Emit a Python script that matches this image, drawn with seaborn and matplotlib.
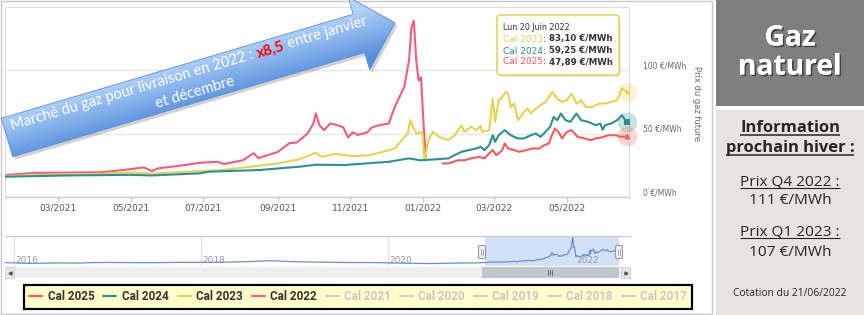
import numpy as np
import pandas as pd
import matplotlib
matplotlib.use("Agg")
import matplotlib.pyplot as plt
import seaborn as sns
import matplotlib.dates as mdates
import matplotlib.patheffects as pe
from matplotlib.patches import Rectangle, Polygon, FancyBboxPatch
from matplotlib.lines import Line2D
from matplotlib import font_manager

# ---------------------------------------------------------------- data
cal2022_dates = ["2021-01-16", "2021-02-09", "2021-03-09", "2021-04-06", "2021-04-17", "2021-05-01",
                 "2021-05-12", "2021-05-19", "2021-05-24", "2021-06-09", "2021-06-28", "2021-07-13",
                 "2021-07-18", "2021-08-03", "2021-08-12", "2021-08-16", "2021-09-01", "2021-09-11",
                 "2021-09-17", "2021-09-26", "2021-10-01", "2021-10-03", "2021-10-06", "2021-10-10",
                 "2021-10-15", "2021-10-21", "2021-10-26", "2021-10-30", "2021-11-03", "2021-11-07",
                 "2021-11-15", "2021-11-19", "2021-11-25", "2021-12-03", "2021-12-08", "2021-12-12",
                 "2021-12-16", "2021-12-20", "2021-12-22", "2021-12-24", "2021-12-26", "2021-12-28",
                 "2021-12-30", "2022-01-01", "2022-01-03"]
cal2022_values = [17.3, 19.0, 19.3, 19.5, 20.5, 22.0,
                  23.4, 20.5, 22.6, 24.4, 27.0, 27.8,
                  26.0, 29.0, 34.6, 30.7, 35.5, 42.5,
                  43.0, 50.0, 58.0, 66.0, 56.7, 52.8,
                  58.0, 56.7, 55.0, 47.0, 51.0, 49.0,
                  51.0, 55.0, 56.7, 58.0, 71.0, 79.0,
                  87.0, 108.0, 134.0, 139.0, 108.0, 92.0,
                  94.5, 60.0, 31.5]

cal2023_dates = ["2021-01-16", "2021-02-20", "2021-04-01", "2021-05-01", "2021-05-19", "2021-06-09",
                 "2021-06-28", "2021-07-13", "2021-08-10", "2021-09-01", "2021-09-19", "2021-10-03",
                 "2021-10-08", "2021-10-19", "2021-11-03", "2021-11-17", "2021-11-28", "2021-12-08",
                 "2021-12-14", "2021-12-19", "2021-12-21", "2021-12-26", "2021-12-31", "2022-01-02",
                 "2022-01-05", "2022-01-09", "2022-01-14", "2022-01-22", "2022-01-27", "2022-02-02",
                 "2022-02-04", "2022-02-10", "2022-02-14", "2022-02-18", "2022-02-19", "2022-02-25",
                 "2022-02-28", "2022-03-02", "2022-03-05", "2022-03-08", "2022-03-11", "2022-03-13",
                 "2022-03-15", "2022-03-18", "2022-03-21", "2022-03-25", "2022-03-29", "2022-04-01",
                 "2022-04-05", "2022-04-09", "2022-04-13", "2022-04-19", "2022-04-23", "2022-04-27",
                 "2022-05-01", "2022-05-05", "2022-05-09", "2022-05-13", "2022-05-17", "2022-05-22",
                 "2022-05-28", "2022-06-02", "2022-06-07", "2022-06-12", "2022-06-16", "2022-06-20"]
cal2023_values = [16.5, 17.5, 18.0, 19.4, 18.5, 19.5,
                  20.5, 21.0, 24.0, 26.5, 29.7, 35.0,
                  31.7, 34.0, 32.3, 33.0, 35.7, 38.3,
                  44.9, 50.0, 60.6, 50.0, 51.4, 28.5,
                  44.9, 51.4, 47.5, 44.9, 48.8, 56.7,
                  51.4, 55.4, 52.8, 56.2, 51.4, 52.8,
                  77.7, 59.3, 76.4, 79.0, 82.9, 81.6,
                  71.0, 73.7, 60.6, 65.9, 69.8, 65.9,
                  69.8, 72.4, 75.0, 82.9, 77.7, 75.0,
                  76.4, 81.6, 73.7, 76.4, 71.0, 71.0,
                  73.7, 73.7, 75.0, 76.4, 85.6, 83.10]

cal2024_dates = ["2021-01-16", "2021-03-09", "2021-05-01", "2021-05-19", "2021-06-28", "2021-07-06",
                 "2021-08-17", "2021-09-19", "2021-10-03", "2021-10-26", "2021-12-03", "2021-12-20",
                 "2021-12-29", "2022-01-14", "2022-01-22", "2022-01-27", "2022-02-02", "2022-02-08",
                 "2022-02-14", "2022-02-18", "2022-02-21", "2022-02-25", "2022-02-28", "2022-03-02",
                 "2022-03-05", "2022-03-10", "2022-03-15", "2022-03-21", "2022-03-26", "2022-04-01",
                 "2022-04-05", "2022-04-09", "2022-04-13", "2022-04-17", "2022-04-20", "2022-04-23",
                 "2022-04-26", "2022-04-30", "2022-05-04", "2022-05-09", "2022-05-13", "2022-05-19",
                 "2022-05-25", "2022-05-29", "2022-05-31", "2022-06-02", "2022-06-07", "2022-06-12",
                 "2022-06-16", "2022-06-20"]
cal2024_values = [16.0, 17.0, 17.5, 17.0, 18.7, 20.0,
                  21.3, 23.9, 25.5, 25.2, 27.8, 30.5,
                  29.0, 29.9, 30.5, 33.0, 35.7, 37.0,
                  38.3, 39.6, 37.0, 40.9, 48.8, 43.5,
                  48.8, 52.8, 48.8, 46.2, 46.2, 48.8,
                  50.1, 47.5, 51.4, 55.4, 63.2, 60.6,
                  65.9, 60.6, 59.3, 65.9, 60.6, 59.3,
                  56.7, 58.0, 53.0, 56.7, 58.0, 60.6,
                  64.6, 59.25]

cal2025_dates = ["2022-01-17", "2022-01-22", "2022-01-30", "2022-02-04", "2022-02-10", "2022-02-17",
                 "2022-02-21", "2022-02-25", "2022-02-28", "2022-03-03", "2022-03-08", "2022-03-10",
                 "2022-03-13", "2022-03-18", "2022-03-22", "2022-03-28", "2022-04-02", "2022-04-08",
                 "2022-04-12", "2022-04-16", "2022-04-18", "2022-04-21", "2022-04-24", "2022-04-27",
                 "2022-05-01", "2022-05-05", "2022-05-10", "2022-05-16", "2022-05-21", "2022-05-25",
                 "2022-05-30", "2022-06-05", "2022-06-11", "2022-06-15", "2022-06-20"]
cal2025_values = [26.5, 26.5, 29.0, 29.0, 30.5, 31.7,
                  30.5, 34.4, 37.0, 33.0, 37.0, 42.3,
                  38.3, 37.0, 35.7, 37.0, 38.3, 38.3,
                  40.9, 42.3, 47.5, 54.0, 51.4, 46.2,
                  51.4, 52.8, 47.5, 46.2, 44.9, 46.2,
                  47.0, 48.8, 48.8, 47.5, 47.89]

# navigator history (front calendar year before 2021)
nav_hist_dates = ["2015-11-27", "2016-01-15", "2016-02-20", "2016-04-15", "2016-06-15", "2016-09-15",
                  "2016-11-15", "2017-01-15", "2017-04-15", "2017-07-15", "2017-10-15", "2018-01-15",
                  "2018-04-15", "2018-07-15", "2018-09-20", "2018-10-20", "2018-12-15", "2019-02-15",
                  "2019-05-15", "2019-08-15", "2019-11-15", "2020-01-15", "2020-04-15", "2020-06-15",
                  "2020-08-15", "2020-10-15", "2020-12-15"]
nav_hist_values = [17.0, 14.5, 13.0, 13.5, 15.0, 14.5,
                   17.0, 17.5, 16.5, 16.5, 18.0, 18.0,
                   19.0, 22.0, 26.0, 25.0, 22.0, 20.0,
                   18.5, 17.0, 17.0, 15.0, 13.0, 12.0,
                   13.5, 15.0, 15.5]

y_ticks = [0, 50, 100]
y_tick_labels = ["0 €/MWh", "50 €/MWh", "100 €/MWh"]
legend_labels = ["Cal 2025", "Cal 2024", "Cal 2023", "Cal 2022", "Cal 2021",
                 "Cal 2020", "Cal 2019", "Cal 2018", "Cal 2017"]
nav_years = ["2016", "2018", "2020", "2022"]

# ---------------------------------------------------------------- style
sns.set_style("white")
avail = {f.name for f in font_manager.fontManager.ttflist}
def pick(*names):
    for nm in names:
        if nm in avail:
            return nm
    return "DejaVu Sans"
F_ARROW = pick("Lato", "Open Sans", "DejaVu Sans")
F_PANEL = pick("Open Sans", "Noto Sans", "DejaVu Sans")
F_LEG = pick("Liberation Sans Narrow", "Roboto", "Liberation Sans")
plt.rcParams["font.family"] = ["DejaVu Sans"]

W, H = 864, 315
fig = plt.figure(figsize=(W / 100, H / 100), dpi=100)
fig.patch.set_facecolor("white")
def fx(px): return px / W
def fy(py): return 1 - py / H

C25, C24, C23, C22 = "#f45b5b", "#2b908f", "#e4d354", "#f15c80"
series = [
    ("Cal 2022", cal2022_dates, cal2022_values, C22),
    ("Cal 2023", cal2023_dates, cal2023_values, C23),
    ("Cal 2024", cal2024_dates, cal2024_values, C24),
    ("Cal 2025", cal2025_dates, cal2025_values, C25),
]

# ---------------------------------------------------------------- main chart
ax = fig.add_axes([fx(5), fy(197), (629 - 5) / W, (197 - 7) / H])
for name, d, v, c in series:
    sns.lineplot(x=pd.to_datetime(d), y=v, ax=ax, color=c, lw=1.5, zorder=3)
x0 = pd.Timestamp("2021-01-16")
x1 = pd.Timestamp("2022-06-22")
ax.set_xlim(x0, x1)
ax.set_ylim(0, 150)
ax.set_xticks(pd.date_range("2021-03-01", "2022-05-01", freq="2MS"))
ax.xaxis.set_major_formatter(mdates.DateFormatter("%m/%Y"))
ax.tick_params(axis="x", bottom=True, length=3.6, width=1, color="#c0d0e0",
               labelsize=6.5, labelcolor="#555555", pad=1)
ax.yaxis.tick_right()
ax.set_yticks(y_ticks)
ax.set_yticklabels(y_tick_labels)
ax.tick_params(axis="y", length=0, labelsize=5.5, labelcolor="#666666", pad=10)
for lab in ax.get_yticklabels():
    lab.set_va("bottom")
ax.grid(axis="y", color="#e6e6e6", lw=1)
ax.grid(axis="x", visible=False)
for s in ["top", "left", "right"]:
    ax.spines[s].set_color("#dddddd")
    ax.spines[s].set_linewidth(0.8)
ax.spines["bottom"].set_color("#c0d0e0")
ax.spines["bottom"].set_linewidth(1)
ax.set_xlabel("")
ax.set_ylabel("Prix du gaz future", rotation=270, fontsize=6, color="#666666",
              ha="center", va="center")
ax.yaxis.set_label_position("right")
ax.yaxis.set_label_coords((701 - 5) / 624, (197 - 103) / 190)

# hover halos + markers at last point
markers = {"Cal 2023": ("o", 10), "Cal 2024": ("s", 18), "Cal 2025": ("^", 18)}
for name, d, v, c in series:
    if name in markers:
        mk, ms = markers[name]
        xd = [pd.Timestamp(d[-1])]
        ax.scatter(xd, [v[-1]], s=200, color=c, alpha=0.25, lw=0, clip_on=False, zorder=5)
        ax.scatter(xd, [v[-1]], s=ms, marker=mk, color=c, lw=0, clip_on=False, zorder=6)

# ---------------------------------------------------------------- navigator
nav = fig.add_axes([fx(5), fy(266), (621 - 5) / W, 30 / H])
nav_d = nav_hist_dates + [d for d in cal2022_dates if d < "2022-01-01"] + \
    [d for d in cal2023_dates if d >= "2022-01-05"]
nav_v = nav_hist_values + [v for d, v in zip(cal2022_dates, cal2022_values) if d < "2022-01-01"] + \
    [v for d, v in zip(cal2023_dates, cal2023_values) if d >= "2022-01-05"]
nav.axvspan(x0, pd.Timestamp("2022-06-21"), color="#d2e1f5", lw=0, zorder=0)
for yr in nav_years:
    ts = pd.Timestamp(f"{yr}-01-01")
    nav.axvline(ts, color="#e3e3e3", lw=1, zorder=0.5)
    nav.text(ts + pd.Timedelta(days=4), 0.17, yr, transform=nav.get_xaxis_transform(),
             fontsize=6.5, color="#999999", ha="left", va="center", zorder=1)
sns.lineplot(x=pd.to_datetime(nav_d), y=nav_v, ax=nav, color="#6b8fcf", lw=0.9, zorder=3)
nav.set_xlim(pd.Timestamp("2015-11-27"), pd.Timestamp("2022-06-30"))
nav.set_ylim(0, 148)
nav.set_xticks([]); nav.set_yticks([])
nav.set_xlabel(""); nav.set_ylabel("")
for s in nav.spines.values():
    s.set_visible(False)

# ---------------------------------------------------------------- overlay (pixel coords)
ov = fig.add_axes([0, 0, 1, 1], zorder=20)
ov.axis("off")
ov.set_xlim(0, W)
ov.set_ylim(H, 0)
ov.set_autoscale_on(False)
r = fig.canvas.get_renderer()

# container border
ov.add_patch(Rectangle((1, 1), 711, 313, fill=False, ec="#c8c8c8", lw=1))
ov.plot([5, 630], [235.5, 235.5], color="#cccccc", lw=1)

# navigator handles
for hx in (482, 619):
    ov.add_patch(FancyBboxPatch((hx - 3.5, 245.5), 7, 13, boxstyle="round,pad=0,rounding_size=1.5",
                                fc="#f2f2f2", ec="#999999", lw=0.8, zorder=5))
    ov.plot([hx - 1, hx - 1], [249, 255], color="#999999", lw=0.6, zorder=6)
    ov.plot([hx + 1, hx + 1], [249, 255], color="#999999", lw=0.6, zorder=6)

# scrollbar
ov.add_patch(Rectangle((5, 267), 625, 11, fc="#efefef", lw=0))
ov.add_patch(Rectangle((5, 267), 9, 11, fc="#e6e6e6", ec="#cccccc", lw=0.6))
ov.add_patch(Rectangle((621, 267), 9, 11, fc="#e6e6e6", ec="#cccccc", lw=0.6))
ov.plot([9.5], [272.5], marker="<", ms=2.2, color="#555555")
ov.plot([625.5], [272.5], marker=">", ms=2.2, color="#555555")
ov.add_patch(Rectangle((482, 267), 137, 11, fc="#bfc7d1", lw=0))
for gx in (548, 550, 552):
    ov.plot([gx, gx], [270, 275], color="#555555", lw=0.6)

# right panel
ov.add_patch(Rectangle((716, 0), 148, 106, fc="#7f7f7f", lw=0))
ov.add_patch(Rectangle((716, 110), 148, 205, fc="#e7e3df", lw=0))

def fit(x, y, s, target, base=10, va="center", **kw):
    t = ov.text(x, y, s, fontsize=base, ha="center", va=va, **kw)
    w = t.get_window_extent(r).width
    t.set_fontsize(base * target / w)
    return t

def underline(t, y, color="#262626", lw=1.0):
    bb = t.get_window_extent(r)
    ov.plot([bb.x0, bb.x1], [y, y], color=color, lw=lw, solid_capstyle="butt")

shadow = [pe.withSimplePatchShadow(offset=(1.2, -1.2), shadow_rgbFace="#2a2a2a", alpha=0.7), pe.Normal()]
tn = fit(790, 67, "naturel", 104, base=15, color="white", weight="bold", family=F_PANEL,
         path_effects=shadow)
fs_t = tn.get_fontsize()
ov.text(790, 38, "Gaz", fontsize=fs_t, ha="center", va="center", color="white", weight="bold",
        family=F_PANEL, path_effects=shadow)

dark = "#262626"
ti = fit(790, 132, "Information", 100, base=11, va="baseline", color=dark, weight="bold", family=F_PANEL)
fs_i = ti.get_fontsize()
underline(ti, 134.5, lw=1.1)
tp = ov.text(790, 152, "prochain hiver :", fontsize=fs_i, ha="center", va="baseline", color=dark,
             weight="bold", family=F_PANEL)
underline(tp, 154.5, lw=1.1)
tq4 = fit(790, 185, "Prix Q4 2022 :", 99, base=11, va="baseline", color=dark, family=F_PANEL)
fs_p = tq4.get_fontsize()
underline(tq4, 187.5, lw=0.8)
ov.text(790, 200, "111 €/MWh", fontsize=fs_p, ha="center", va="center", color=dark, family=F_PANEL)
tq1 = ov.text(790, 235, "Prix Q1 2023 :", fontsize=fs_p, ha="center", va="baseline", color=dark,
              family=F_PANEL)
underline(tq1, 237.5, lw=0.8)
ov.text(790, 252, "107 €/MWh", fontsize=fs_p, ha="center", va="center", color=dark, family=F_PANEL)
fit(790, 293, "Cotation du 21/06/2022", 114, base=7, color=dark, family=F_PANEL)

# tooltip
ov.add_patch(FancyBboxPatch((499, 17), 122, 60, boxstyle="round,pad=0,rounding_size=3",
                            fc="#000000", alpha=0.08, lw=0))
ov.add_patch(FancyBboxPatch((497, 15), 122, 60, boxstyle="round,pad=0,rounding_size=3",
                            fc="white", ec=C23, lw=1.2, alpha=0.95))
ov.text(503, 28, "Lun 20 Juin 2022", fontsize=5.8, color="#333333", va="center", ha="left")
tips = [("Cal 2023", "83,10 €/MWh", C23, 39), ("Cal 2024", "59,25 €/MWh", C24, 51),
        ("Cal 2025", "47,89 €/MWh", C25, 62)]
for lab, val, col, yy in tips:
    t1 = ov.text(503, yy, lab, fontsize=6.5, color=col, va="center", ha="left")
    bb = t1.get_window_extent(r)
    ov.text(bb.x1 + 0.5, yy, ":", fontsize=6.5, color="#333333", va="center", ha="left")
    ov.text(549, yy, val, fontsize=6.2, color="#333333", weight="bold", va="center", ha="left")

# big arrow
S = np.array([7.0, 137.5]); T = np.array([395.0, 22.7])
vec = T - S
L = float(np.hypot(*vec))
u = vec / L
n = np.array([-u[1], u[0]])
ab = [(0, -20), (367, -20), (367, -38), (L, 0), (367, 38), (367, 20), (0, 20)]
pts = np.array([S + a * u + b * n for a, b in ab])
ov.add_patch(Polygon(pts + np.array([2.5, 3.0]), closed=True, fc="#000000", alpha=0.18, lw=0, zorder=1))
poly = Polygon(pts, closed=True, fc="none", ec="#5b8fd6", lw=0.6, zorder=3)
ov.add_patch(poly)
gxs = np.arange(0, 401)
gys = np.arange(-10, 171)
GX, GY = np.meshgrid(gxs, gys)
B = (GX - S[0]) * n[0] + (GY - S[1]) * n[1]
tt = np.clip((B + 24) / 52, 0, 1)[..., None]
ctop = np.array([0.71, 0.83, 0.98]); cbot = np.array([0.33, 0.55, 0.86])
img = ctop * (1 - tt) + cbot * tt
im = ov.imshow(img, extent=(0, 400, 170, -10), origin="upper", aspect="auto", zorder=2,
               interpolation="bilinear")
im.set_clip_path(poly)
ov.set_xlim(0, W)
ov.set_ylim(H, 0)

ang = float(np.degrees(np.arctan2(-vec[1], vec[0])))
def tw(s, **kw):
    t = ov.text(0, 0, s, **kw)
    w = t.get_window_extent(r).width
    t.remove()
    return w

p1, p2, p3 = "Marché du gaz pour livraison en 2022 :", "x8,5", "entre janvier"
base = 12
def widths(fs):
    kw_w = dict(fontsize=fs, family=F_ARROW)
    kw_b = dict(fontsize=fs, family=F_ARROW, weight="bold")
    sp = tw("x x", **kw_w) - tw("xx", **kw_w)
    return kw_w, kw_b, sp, tw(p1, **kw_w), tw(p2, **kw_b), tw(p3, **kw_w)
kw_w, kw_b, sp, w1, w2, w3 = widths(base)
tot = w1 + sp + w2 + sp + w3
fs = base * 368 / tot
kw_w, kw_b, sp, w1, w2, w3 = widths(fs)
tot = w1 + sp + w2 + sp + w3

a = 7.0
for s, kw, col, w in [(p1, kw_w, "white", w1), (p2, kw_b, "#ff0000", w2), (p3, kw_w, "white", w3)]:
    pos = S + a * u + (-5.5) * n
    ov.text(pos[0], pos[1], s, rotation=ang, rotation_mode="anchor", ha="left", va="baseline",
            color=col, zorder=4, **kw)
    a += w + sp
w4 = tw("et décembre", **kw_w)
a2 = 7.0 + tot / 2 - w4 / 2
pos = S + a2 * u + 14.5 * n
ov.text(pos[0], pos[1], "et décembre", rotation=ang, rotation_mode="anchor", ha="left",
        va="baseline", color="white", zorder=4, **kw_w)

# ---------------------------------------------------------------- legend
leg_colors = [C25, C24, C23, C22] + ["#cccccc"] * 5
txt_colors = ["#333333"] * 4 + ["#c8c8c8"] * 5
handles = [Line2D([], [], color=c, lw=1.5) for c in leg_colors]

def make_legend(cs):
    lg = fig.legend(handles, legend_labels, ncol=9, loc="center",
                    bbox_to_anchor=(fx(358), fy(297)), frameon=True, fancybox=False,
                    facecolor="#ffffcc", edgecolor="black", framealpha=1,
                    prop=dict(family=F_LEG, weight="bold", size=8.5),
                    handlelength=1.1, handletextpad=0.45, columnspacing=cs,
                    borderpad=0.45, borderaxespad=0)
    lg.get_frame().set_linewidth(1.6)
    for t, c in zip(lg.get_texts(), txt_colors):
        t.set_color(c)
    return lg

cs = 1.5
lg = make_legend(cs)
wl = lg.get_window_extent(r).width
lg.remove()
cs = cs + (668 - wl) / 8 / (8.5 * 100 / 72)
lg = make_legend(cs)

fig.savefig("out.png", dpi=100, facecolor="white")
